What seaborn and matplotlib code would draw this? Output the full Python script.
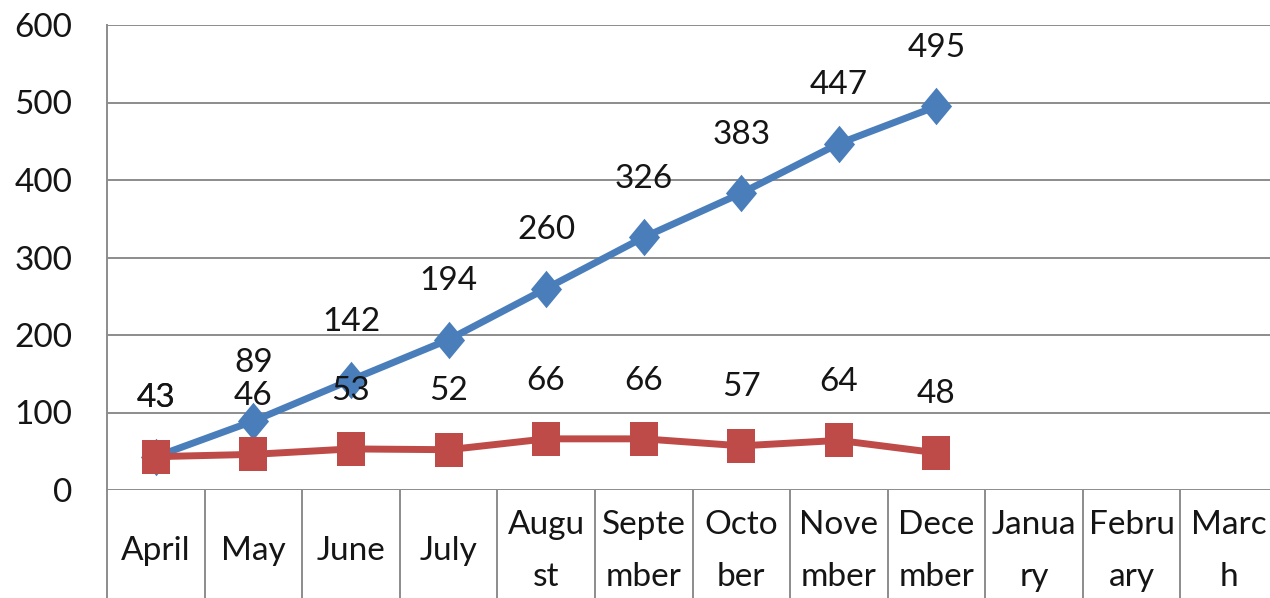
import matplotlib
matplotlib.use("Agg")
import matplotlib.pyplot as plt
import matplotlib.transforms as mtransforms
import seaborn as sns
import numpy as np

months = ["April", "May", "June", "July", "August", "September", "October",
          "November", "December", "January", "February", "March"]
month_labels = ["April", "May", "June", "July", "Augu\nst", "Septe\nmber", "Octo\nber",
                "Nove\nmber", "Dece\nmber", "Janua\nry", "Febru\nary", "Marc\nh"]
cumulative = [43, 89, 142, 194, 260, 326, 383, 447, 495]
monthly = [43, 46, 53, 52, 66, 66, 57, 64, 48]
y_ticks = [0, 100, 200, 300, 400, 500, 600]

sns.set_style("white")
plt.rcParams["font.family"] = ["Lato", "DejaVu Sans"]

W, H = 1270, 598
fig = plt.figure(figsize=(W / 100, H / 100), dpi=100)
left, right, top, bottom = 107, 1278, 25, 490
ax = fig.add_axes([left / W, (H - bottom) / H, (right - left) / W, (bottom - top) / H])

grid_c = "#8c8c8c"
blue = "#4A7EBB"
red = "#BE4B48"
txt = "#151515"
fs = 24

diamond = [(0, 1), (0.83, 0), (0, -1), (-0.83, 0)]
square = [(-0.85, -1), (0.85, -1), (0.85, 1), (-0.85, 1)]

x1 = np.arange(len(cumulative))
x2 = np.arange(len(monthly))
sns.lineplot(x=x1, y=cumulative, ax=ax, color=blue, lw=5, marker=diamond,
             markersize=27, markeredgewidth=0, zorder=3)
sns.lineplot(x=x2, y=monthly, ax=ax, color=red, lw=5, marker=square,
             markersize=24.5, markeredgewidth=0, zorder=4)

for xs, ys in [(x1, cumulative), (x2, monthly)]:
    for x, y in zip(xs, ys):
        ax.annotate(str(y), (x, y), xytext=(0, 42), textcoords="offset points",
                    ha="center", va="center", fontsize=fs, color=txt, zorder=5)

ax.set_xlim(-0.5, len(months) - 0.5)
ax.set_ylim(0, 600)
ax.set_yticks(y_ticks)
ax.set_yticklabels([str(t) for t in y_ticks], fontsize=fs, color=txt)
ax.tick_params(axis="y", length=0, pad=25)
for t in y_ticks:
    ax.axhline(t, color=grid_c, lw=1.4, zorder=1)

ax.set_xticks(np.arange(len(months)))
ax.set_xticklabels(month_labels, fontsize=fs, color=txt, va="center",
                   linespacing=1.9)
ax.tick_params(axis="x", length=0, pad=44)

trans = mtransforms.blended_transform_factory(ax.transData, ax.transAxes)
bounds = np.arange(len(months) + 1) - 0.5
ax.vlines(bounds, -0.4, 0, transform=trans, color=grid_c, lw=1.4, clip_on=False)

for s in ["top", "right", "bottom"]:
    ax.spines[s].set_visible(False)
ax.spines["left"].set_color(grid_c)
ax.spines["left"].set_linewidth(1.4)
ax.set_xlabel("")
ax.set_ylabel("")

fig.savefig("out.png", dpi=100, facecolor="white")
